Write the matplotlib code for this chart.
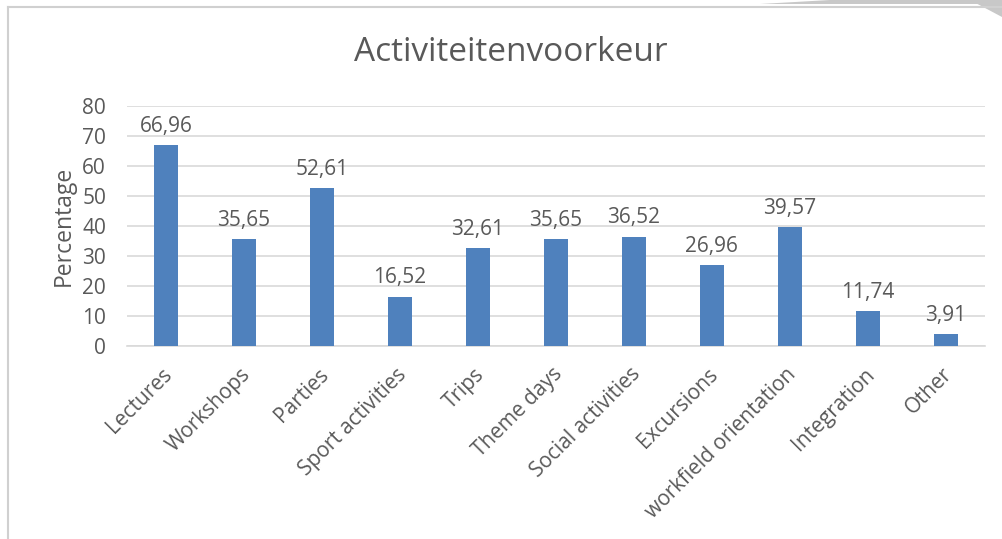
import numpy as np
import matplotlib.pyplot as plt
import matplotlib.transforms as mtransforms
from matplotlib.lines import Line2D
from matplotlib.patches import Polygon

# === Data ===
categories = ['Lectures', 'Workshops', 'Parties', 'Sport activities', 'Trips',
              'Theme days', 'Social activities', 'Excursions',
              'workfield orientation', 'Integration', 'Other']
values = [66.96, 35.65, 52.61, 16.52, 32.61, 35.65, 36.52, 26.96, 39.57, 11.74, 3.91]
y_ticks = [0, 10, 20, 30, 40, 50, 60, 70, 80]

TEXT = '#595959'
BAR = '#4F81BD'
GRID = '#D9D9D9'
plt.rcParams['font.family'] = ['Open Sans', 'DejaVu Sans']

fig = plt.figure(figsize=(10.02, 5.39), dpi=100)
ax = fig.add_axes([0.1267, 0.358, 0.856, 0.445])

x = np.arange(len(categories))
ax.bar(x, values, width=0.31, color=BAR, zorder=3)

for xi, v in zip(x, values):
    ax.annotate(f'{v:.2f}'.replace('.', ','), (xi, v), xytext=(0, 6),
                textcoords='offset points', ha='center', va='bottom',
                fontsize=15, color=TEXT)

ax.set_xlim(-0.5, len(categories) - 0.5)
ax.set_ylim(0, 80)
ax.set_yticks(y_ticks)
ax.yaxis.grid(True, color=GRID, linewidth=1.2, zorder=0)
ax.tick_params(axis='y', length=0, labelsize=15, labelcolor=TEXT, pad=15)
ax.tick_params(axis='x', length=0, labelsize=15, labelcolor=TEXT)
ax.set_xticks(x)
ax.set_xticklabels(categories, rotation=45, ha='right', va='top',
                   rotation_mode='anchor')
shift = mtransforms.ScaledTranslation(-0.04, -0.13, fig.dpi_scale_trans)
for lbl in ax.get_xticklabels():
    lbl.set_transform(lbl.get_transform() + shift)
for s in ['top', 'right', 'left']:
    ax.spines[s].set_visible(False)
ax.spines['bottom'].set_color(GRID)
ax.spines['bottom'].set_linewidth(1.2)

ax.set_ylabel('Percentage', fontsize=16.5, color=TEXT, labelpad=5)
fig.text(0.51, 0.903, 'Activiteitenvoorkeur', ha='center', va='center',
         fontsize=24, color=TEXT)

# chart frame and page decoration
fig.add_artist(Line2D([7.5 / 1002, 7.5 / 1002], [0, 1 - 7 / 539],
                      color='#D0D0D0', linewidth=1.5))
fig.add_artist(Line2D([7.5 / 1002, 1], [1 - 7 / 539, 1 - 7 / 539],
                      color='#D0D0D0', linewidth=1.5))
fig.add_artist(Polygon([[760 / 1002, 1 - 4 / 539], [830 / 1002, 1], [1240 / 1002, 1],
                        [1310 / 1002, 1 - 4 / 539]], closed=True,
                       facecolor='#C8C8C8', edgecolor='none', transform=fig.transFigure))
fig.add_artist(Polygon([[970 / 1002, 1], [1, 1], [1, 1 - 17 / 539]], closed=True,
                       facecolor='#C8C8C8', edgecolor='none', transform=fig.transFigure))

fig.savefig('out.png', dpi=100)
